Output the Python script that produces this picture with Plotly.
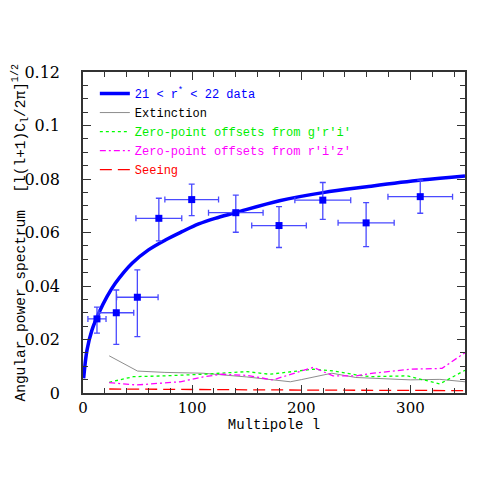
import plotly.graph_objects as go

# ---- data ----
l_data = [12.8, 30.5, 49.8, 69.5, 99.6, 140, 179.6, 219.7, 259.4, 309]
w_data = [0.0277, 0.0300, 0.0358, 0.0653, 0.0723, 0.0674, 0.0626, 0.0721, 0.0636, 0.0734]
w_err_plus = [0.0044, 0.0085, 0.0102, 0.0075, 0.0058, 0.0066, 0.0071, 0.0066, 0.0076, 0.0062]
w_err_minus = [0.0053, 0.0118, 0.0147, 0.0084, 0.0060, 0.0073, 0.0082, 0.0072, 0.0089, 0.0062]
l_err = [8.3, 16, 19, 21, 24.6, 25, 25, 25.6, 25.7, 29.6]

l_fit = [0.6, 3.7, 8.2, 14.4, 22, 29.6, 45, 60, 75.5, 90.7, 106, 121, 139.6, 180, 220, 260, 310, 350]
w_fit = [0.0055, 0.0161, 0.0235, 0.0298, 0.036, 0.041, 0.0485, 0.0535, 0.0572, 0.0603,
         0.0632, 0.0653, 0.0674, 0.0719, 0.0749, 0.0771, 0.0796, 0.0811]

l_ext = [24, 50, 75, 110, 150, 175, 190, 200, 228, 250, 263, 300, 327, 350]
w_ext = [0.0139, 0.0082, 0.0077, 0.0074, 0.0060, 0.0048, 0.0042, 0.0050, 0.0074, 0.0058,
         0.0055, 0.0049, 0.0051, 0.0042]

l_gri = [24, 46, 74, 110, 150, 171, 211, 229, 250, 263, 297, 327, 350]
w_gri = [0.0040, 0.0061, 0.0064, 0.0070, 0.0080, 0.0070, 0.0089, 0.0083, 0.0068, 0.0061,
         0.0064, 0.0034, 0.0085]

l_riz = [24, 49, 89, 110, 126, 150, 174, 211, 229, 250, 266, 300, 329, 350]
w_riz = [0.0039, 0.0030, 0.0042, 0.0060, 0.0070, 0.0066, 0.0049, 0.0096, 0.0064, 0.0064,
         0.0074, 0.0089, 0.0092, 0.0151]

l_see = [24, 50, 100, 150, 200, 250, 300, 350]
w_see = [0.0015, 0.0014, 0.0013, 0.0012, 0.0011, 0.0011, 0.0010, 0.0009]

x_ticks = [0, 100, 200, 300]
y_ticks = [0, 0.02, 0.04, 0.06, 0.08, 0.1, 0.12]
y_tick_text = ["0", "0.02", "0.04", "0.06", "0.08", "0.1", "0.12"]

fig = go.Figure()

fig.add_trace(go.Scatter(
    x=l_fit, y=w_fit, mode="lines", line=dict(color="#0000ff", width=3.5, shape="spline"),
    name="<span style='color:#0000ff'>21 &lt; r<sup>*</sup> &lt; 22 data</span>"))
fig.add_trace(go.Scatter(
    x=l_ext, y=w_ext, mode="lines", line=dict(color="#808080", width=0.9),
    name="<span style='color:#000000'>Extinction</span>"))
fig.add_trace(go.Scatter(
    x=l_gri, y=w_gri, mode="lines", line=dict(color="#00ff00", width=1.3, dash="dot"),
    name="<span style='color:#00ee00'>Zero-point offsets from g'r'i'</span>"))
fig.add_trace(go.Scatter(
    x=l_riz, y=w_riz, mode="lines", line=dict(color="#ff00ff", width=1.3, dash="6px,3px,2px,3px"),
    name="<span style='color:#ff00ff'>Zero-point offsets from r'i'z'</span>"))
fig.add_trace(go.Scatter(
    x=l_see, y=w_see, mode="lines", line=dict(color="#ff0000", width=1.3, dash="12px,6px"),
    name="<span style='color:#ff0000'>Seeing</span>"))

fig.add_trace(go.Scatter(
    x=l_data, y=w_data, mode="markers",
    marker=dict(symbol="square", size=7, color="#0000ff"),
    error_y=dict(type="data", symmetric=False, array=w_err_plus, arrayminus=w_err_minus,
                 color="#4a4aff", thickness=1.3, width=3),
    error_x=dict(type="data", array=l_err, color="#4a4aff", thickness=1.3, width=3),
    showlegend=False))

axis_common = dict(
    showline=True, linecolor="#333333", linewidth=1.5, mirror="ticks",
    ticks="inside", ticklen=8, tickwidth=1, tickcolor="#333333",
    showgrid=False, zeroline=False, automargin=False,
)

fig.update_xaxes(
    range=[0, 350], tickvals=x_ticks, ticktext=[str(v) for v in x_ticks],
    minor=dict(dtick=20, ticklen=5, tickcolor="#333333", ticks="inside"),
    ticklabelstandoff=0,
    tickfont=dict(family="DejaVu Serif", size=15, color="#000000"),
    title=dict(text="Multipole l", font=dict(family="Liberation Mono", size=14, color="#000000"),
               standoff=0),
    **axis_common)
fig.update_yaxes(
    range=[0, 0.12], tickvals=y_ticks, ticktext=y_tick_text,
    minor=dict(dtick=0.005, ticklen=5, tickcolor="#333333", ticks="inside"),
    ticklabelstandoff=18,
    tickfont=dict(family="DejaVu Serif", size=16, color="#000000"),
    **axis_common)

fig.add_annotation(
    text="Angular power spectrum  [l(l+1)C<sub>l</sub>/2π]<sup>1/2</sup>",
    xref="paper", yref="paper", x=0, y=0.5, xanchor="center", yanchor="middle",
    xshift=-63, textangle=-90, showarrow=False,
    font=dict(family="Liberation Mono", size=14.5, color="#000000"))

fig.update_layout(
    width=491, height=491,
    margin=dict(l=75, r=34, t=64, b=106),
    paper_bgcolor="white", plot_bgcolor="white",
    showlegend=True,
    legend=dict(x=0.031, y=0.978, xanchor="left", yanchor="top",
                bgcolor="rgba(0,0,0,0)", borderwidth=0,
                font=dict(family="Liberation Mono", size=12, color="#000000"),
                itemwidth=30, tracegroupgap=0),
)

fig.write_html("out.html")
